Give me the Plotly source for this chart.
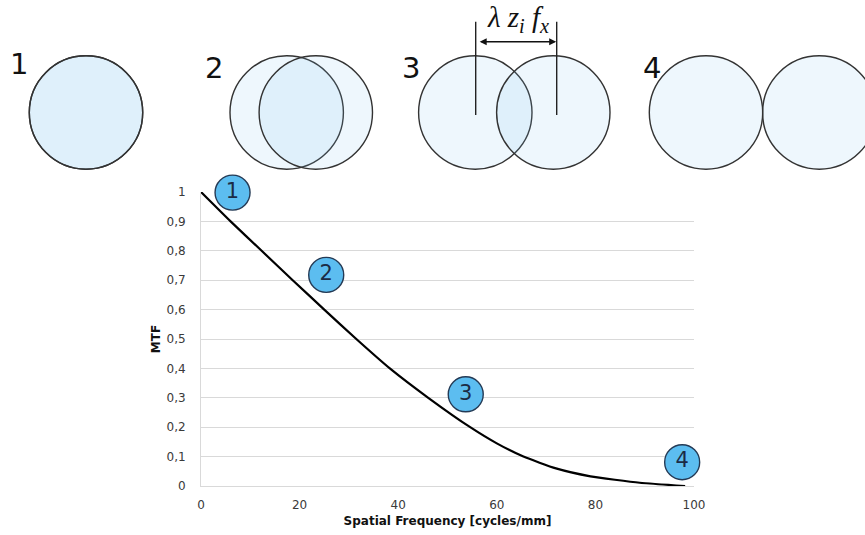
import plotly.graph_objects as go

# MTF curve (spatial frequency in cycles/mm vs. modulation)
freq = [0, 6.0, 12.3, 18.6, 25.0, 31.5, 38.3, 46.1, 54.6, 60.0, 65.4, 72.0, 79.0, 89.0, 98.2]
mtf = [1.0, 0.9, 0.8, 0.7, 0.6, 0.5, 0.4, 0.3, 0.2, 0.145, 0.1, 0.06, 0.033, 0.011, 0.0]

# numbered cases marked on the curve
case_labels = ["1", "2", "3", "4"]
case_freq = [6.4, 25.4, 53.7, 97.6]
case_mtf = [0.998, 0.718, 0.312, 0.081]

W, H = 865, 535
ML, MR, MT, MB = 201, 171, 192, 49
PW, PH = W - ML - MR, H - MT - MB


def px(x):
    return (x - ML) / PW


def py(y):
    return (H - MB - y) / PH


fig = go.Figure()
fig.add_trace(go.Scatter(
    x=freq, y=mtf, mode="lines",
    line=dict(color="black", width=2.2, shape="spline", smoothing=0.5),
    hoverinfo="skip", showlegend=False,
))
fig.add_trace(go.Scatter(
    x=case_freq, y=case_mtf, mode="markers+text",
    text=case_labels, textposition="middle center",
    textfont=dict(family="DejaVu Sans", size=21, color="#1b2b45"),
    marker=dict(size=35, color="#5cbdf0", line=dict(color="#243a55", width=1.4)),
    cliponaxis=False, hoverinfo="skip", showlegend=False,
))

# pupil overlap sketches above the chart: pairs of circles per case
R = 56.7
CY = 112.5
pairs = [(86, 86), (286.7, 315.8), (475.3, 553.3), (706, 819.3)]
fill = "rgba(120,190,240,0.13)"
shapes = []
for a, b in pairs:
    for c in (a, b):
        shapes.append(dict(
            type="circle", xref="paper", yref="paper",
            x0=px(c - R), x1=px(c + R), y0=py(CY + R), y1=py(CY - R),
            fillcolor=fill, line=dict(color="#333333", width=1.4),
        ))

# centre marks for case 3
for cx in (475.7, 556.7):
    shapes.append(dict(
        type="line", xref="paper", yref="paper",
        x0=px(cx), x1=px(cx), y0=py(21.7), y1=py(115),
        line=dict(color="#222222", width=1.4),
    ))

annotations = []
for lab, (x, y) in zip(case_labels, [(19, 64.3), (214, 67.7), (410.8, 67.8), (651.7, 67.8)]):
    annotations.append(dict(
        text=lab, xref="paper", yref="paper", x=px(x), y=py(y),
        xanchor="center", yanchor="middle", showarrow=False,
        font=dict(family="DejaVu Sans", size=29, color="#111111"),
    ))

# double-headed dimension arrow
annotations.append(dict(
    text=" ", xref="paper", yref="paper", x=px(556.2), y=py(41.7),
    ax=476.2 - 556.2, ay=0, axref="pixel", ayref="pixel",
    showarrow=True, arrowside="end+start", arrowhead=2, arrowsize=1,
    arrowwidth=1.4, arrowcolor="#111111", standoff=0, startstandoff=0,
))
annotations.append(dict(
    text="<i>λ z</i><sub><i>i</i></sub><i> f</i><sub><i>x</i></sub>",
    xref="paper", yref="paper", x=px(518), y=py(19),
    xanchor="center", yanchor="middle", showarrow=False,
    font=dict(family="Liberation Serif", size=29, color="#111111"),
))

fig.update_layout(
    width=W, height=H,
    margin=dict(l=ML, r=MR, t=MT, b=MB, autoexpand=False),
    paper_bgcolor="white", plot_bgcolor="white",
    separators=",.",
    shapes=shapes, annotations=annotations,
    font=dict(family="DejaVu Sans", size=12, color="#333333"),
    xaxis=dict(
        range=[0, 100], dtick=20, showgrid=False, zeroline=False,
        showline=True, linecolor="#d9d9d9", linewidth=1,
        ticks="", ticklabelstandoff=8,
        tickfont=dict(family="DejaVu Sans", size=12, color="#3a3a3a"),
        title=dict(text="<b>Spatial Frequency [cycles/mm]</b>", standoff=5,
                   font=dict(family="DejaVu Sans", size=12, color="#111111")),
    ),
    yaxis=dict(
        range=[0, 1], dtick=0.1, showgrid=True, gridcolor="#d9d9d9", gridwidth=1,
        zeroline=False, showline=True, linecolor="#d9d9d9", linewidth=1,
        ticks="", ticklabelstandoff=12,
        tickfont=dict(family="DejaVu Sans", size=12, color="#3a3a3a"),
        title=dict(text="<b>MTF</b>", standoff=3,
                   font=dict(family="DejaVu Sans", size=12, color="#111111")),
    ),
)

fig.write_html("out.html")
